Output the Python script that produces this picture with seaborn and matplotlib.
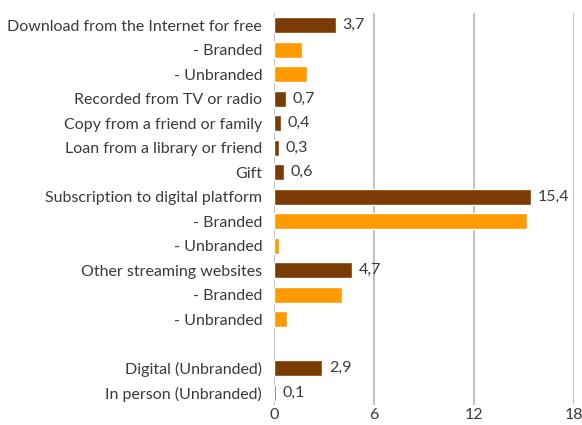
import pandas as pd
import matplotlib
matplotlib.use('Agg')
import matplotlib.pyplot as plt
import seaborn as sns

# Rótulos, valores e tipo de cada linha (a linha vazia separa os dois blocos)
labels = ['Download from the Internet for free', '- Branded', '- Unbranded',
          'Recorded from TV or radio', 'Copy from a friend or family',
          'Loan from a library or friend', 'Gift',
          'Subscription to digital platform', '- Branded', '- Unbranded',
          'Other streaming websites', '- Branded', '- Unbranded',
          '', 'Digital (Unbranded)', 'In person (Unbranded)']
values = [3.7, 1.7, 2.0, 0.7, 0.4, 0.3, 0.6, 15.4, 15.2, 0.3,
          4.7, 4.1, 0.8, None, 2.9, 0.1]
kinds = ['main', 'sub', 'sub', 'main', 'main', 'main', 'main', 'main',
         'sub', 'sub', 'main', 'sub', 'sub', None, 'main', 'main']
xticks = [0, 6, 12, 18]

cores = {'main': '#7A3B04', 'sub': '#FF9B00'}
texto = '#3a3a3a'

row_ids = [str(i) for i in range(len(labels))]
df = pd.DataFrame({'row': row_ids, 'value': values, 'kind': kinds})
df = df.dropna()

sns.set_style('white')
plt.rcParams['font.family'] = ['Lato', 'DejaVu Sans']

fig = plt.figure(figsize=(5.82, 4.25), dpi=100)
ax = fig.add_axes([274 / 582, 20 / 425, 300 / 582, 392 / 425])

sns.barplot(data=df, x='value', y='row', hue='kind', order=row_ids,
            palette=cores, dodge=False, width=0.65, orient='h',
            saturation=1, legend=False, ax=ax, zorder=3)

# Valores apenas nas barras principais, com vírgula decimal
for i, (v, k) in enumerate(zip(values, kinds)):
    if k == 'main':
        ax.text(v + 0.4, i, f'{v:.1f}'.replace('.', ','),
                va='center', ha='left', fontsize=11.5, color=texto)

ax.set_xlim(0, 18)
ax.set_xticks(xticks)
ax.set_xticklabels([str(t) for t in xticks])
ax.set_yticks(range(len(labels)))
ax.set_yticklabels(labels)
ax.set_ylim(len(labels) - 0.5, -0.5)
ax.set_xlabel('')
ax.set_ylabel('')
ax.grid(axis='x', color='#b5b5b5', linewidth=1.2, zorder=0)
ax.grid(axis='y', visible=False)
for s in ax.spines.values():
    s.set_visible(False)
ax.tick_params(axis='both', length=0, labelsize=11.5, colors=texto)
ax.tick_params(axis='y', pad=8.5)
ax.tick_params(axis='x', pad=2)

fig.savefig('out.png', dpi=100)
